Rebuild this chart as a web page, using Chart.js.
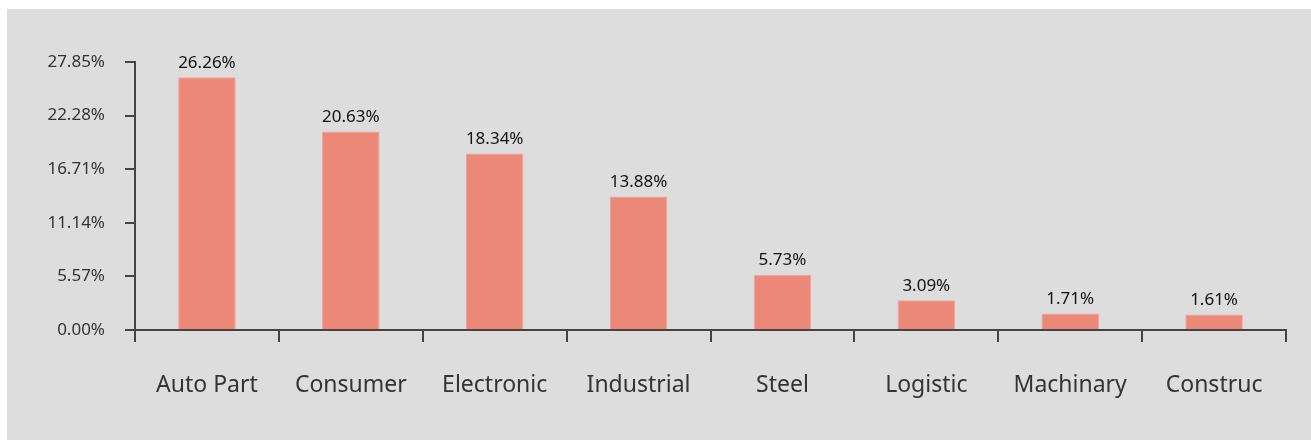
<!DOCTYPE html>
<html>
<head>
<meta charset="utf-8">
<script src="https://cdn.jsdelivr.net/npm/chart.js@4"></script>
<style>
  html, body { margin: 0; padding: 0; background: #fff; width: 1311px; height: 440px; overflow: hidden; }
  #box { position: absolute; left: 7px; top: 9px; right: 0; bottom: 0; background: #dddddd; }
  canvas { display: block; }
</style>
</head>
<body>
<div id="box"><canvas id="chart"></canvas></div>
<script>
// sector shares (%)
const categories = ['Auto Part', 'Consumer', 'Electronic', 'Industrial', 'Steel', 'Logistic', 'Machinary', 'Construc'];
const shares = [26.26, 20.63, 18.34, 13.88, 5.73, 3.09, 1.71, 1.61];
const yTicks = [0, 5.57, 11.14, 16.71, 22.28, 27.85];

const FONT = '"Noto Sans", sans-serif';
const AXIS = '#444444';

// value labels above the bars
const barLabels = {
  id: 'barLabels',
  afterDatasetsDraw(chart) {
    const ctx = chart.ctx;
    const meta = chart.getDatasetMeta(0);
    ctx.save();
    ctx.fillStyle = '#111';
    ctx.font = '17px ' + FONT;
    ctx.textAlign = 'center';
    ctx.textBaseline = 'bottom';
    meta.data.forEach((bar, i) => {
      ctx.fillText(shares[i].toFixed(2) + '%', bar.x, bar.y - 6);
    });
    ctx.restore();
  }
};

new Chart(document.getElementById('chart'), {
  type: 'bar',
  data: {
    labels: categories,
    datasets: [{
      data: shares,
      backgroundColor: '#ec8878',
      borderColor: '#f0a496',
      borderWidth: 1,
      categoryPercentage: 1,
      barPercentage: 0.4,
    }],
  },
  options: {
    responsive: true,
    maintainAspectRatio: false,
    animation: false,
    layout: { padding: { top: 53, right: 25, left: 0, bottom: 0 } },
    plugins: { legend: { display: false }, tooltip: { enabled: false } },
    scales: {
      x: {
        offset: true,
        grid: { display: true, drawOnChartArea: false, offset: true, tickLength: 12, color: AXIS, lineWidth: 2 },
        border: { color: AXIS, width: 2 },
        ticks: { color: '#333', font: { family: FONT, size: 23 }, padding: 30, maxRotation: 0 },
        afterFit(s) { s.height = 110; },
      },
      y: {
        min: 0,
        max: 27.85,
        afterBuildTicks(s) { s.ticks = yTicks.map(v => ({ value: v })); },
        grid: { display: true, drawOnChartArea: false, tickLength: 10, color: AXIS, lineWidth: 2 },
        border: { color: AXIS, width: 2 },
        ticks: {
          color: '#333',
          font: { family: FONT, size: 17 },
          padding: 20,
          callback: v => v.toFixed(2) + '%',
        },
        afterFit(s) { s.width = 128; },
      },
    },
  },
  plugins: [barLabels],
});
</script>
</body>
</html>
